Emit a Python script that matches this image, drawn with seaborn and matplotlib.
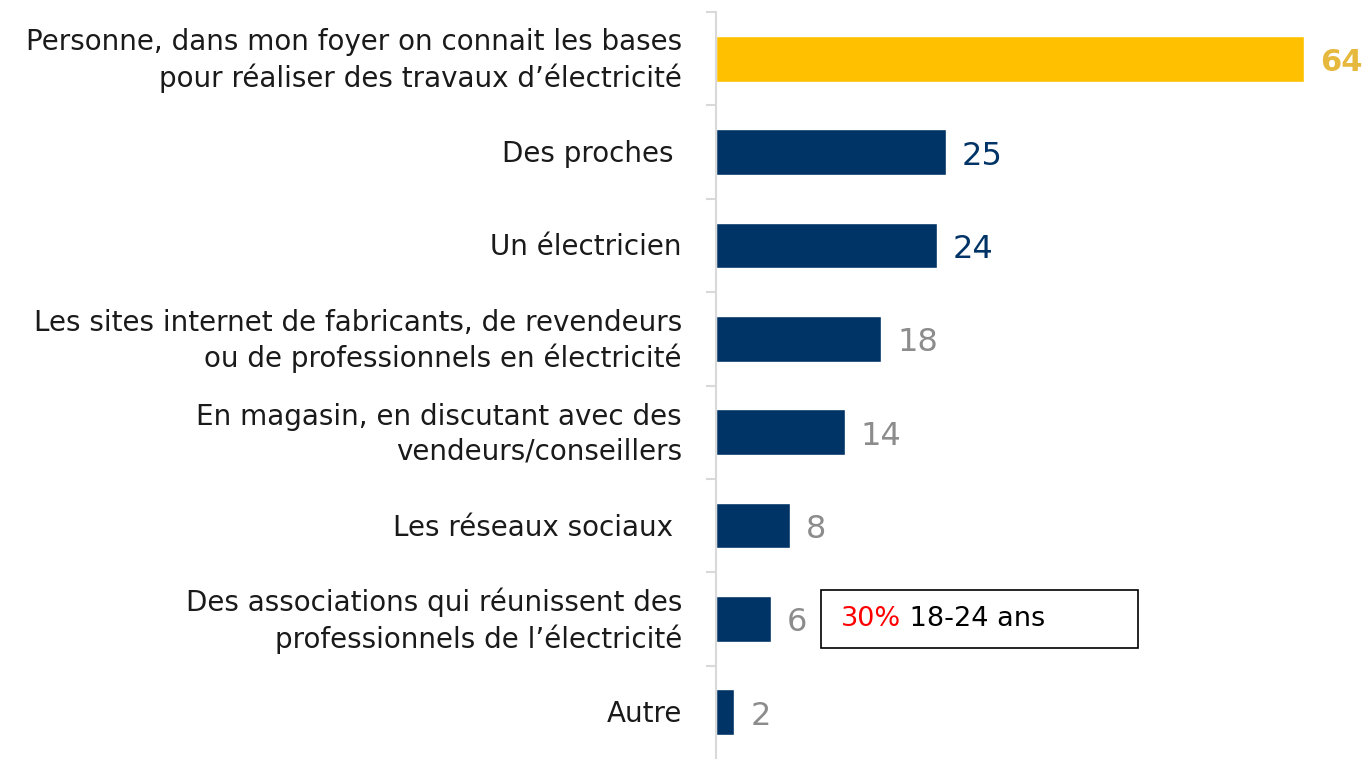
import matplotlib
matplotlib.use("Agg")
import matplotlib.pyplot as plt
import seaborn as sns
import pandas as pd
from matplotlib.patches import Rectangle

categories = [
    "Personne, dans mon foyer on connait les bases\npour réaliser des travaux d’électricité",
    "Des proches ",
    "Un électricien",
    "Les sites internet de fabricants, de revendeurs\nou de professionnels en électricité",
    "En magasin, en discutant avec des\nvendeurs/conseillers",
    "Les réseaux sociaux ",
    "Des associations qui réunissent des\nprofessionnels de l’électricité",
    "Autre",
]
values = [64, 25, 24, 18, 14, 8, 6, 2]
bar_colors = ["#FFC000", "#003366", "#003366", "#003366", "#003366", "#003366", "#003366", "#003366"]
label_colors = ["#E6B93E", "#003366", "#003366", "#8C8C8C", "#8C8C8C", "#8C8C8C", "#8C8C8C", "#8C8C8C"]
note_pct = "30%"
note_txt = "18-24 ans"

sns.set_style("white")
plt.rcParams["font.family"] = ["DejaVu Sans"]

W, H = 1365, 759
fig = plt.figure(figsize=(W / 100, H / 100), dpi=100)
ax = fig.add_axes([716 / W, 0 / H, 649 / W, 747 / H])

df = pd.DataFrame({"cat": categories, "val": values})
sns.barplot(data=df, x="val", y="cat", hue="cat", palette=bar_colors,
            orient="h", width=0.49, legend=False, ax=ax, saturation=1)

ax.set_xlim(0, 649 / 9.19)
ax.set_ylim(7.5, -0.5)
ax.set_xlabel("")
ax.set_ylabel("")
ax.set_xticks([])

for s in ["top", "right", "bottom"]:
    ax.spines[s].set_visible(False)
ax.spines["left"].set_color("#D9D9D9")
ax.spines["left"].set_linewidth(1.5)

# category labels and separator ticks
ax.set_yticks([])
ax.set_yticks([i - 0.5 for i in range(len(categories))], minor=True)
ax.tick_params(axis="y", which="minor", length=7, color="#D9D9D9", width=1.5, left=True)
for i, c in enumerate(categories):
    ax.annotate(c, xy=(0, i), xycoords=("axes fraction", "data"),
                xytext=(-34, -2), textcoords="offset pixels",
                ha="right", va="center", fontsize=20, color="#1A1A1A",
                linespacing=1.3)

# value labels
for i, (v, lc) in enumerate(zip(values, label_colors)):
    ax.annotate(str(v), xy=(v, i), xytext=(16, -4), textcoords="offset pixels",
                ha="left", va="center", fontsize=23 if i else 22,
                color=lc, fontweight="bold" if i == 0 else "normal")

# note box
idx = 6
ax.add_patch(Rectangle((11.4, idx - 0.31), 34.5, 0.62, fill=False,
                       edgecolor="black", linewidth=1.2, clip_on=False))
t1 = ax.text(13.6, idx, note_pct, color="#FF0000", fontsize=19.5, va="center", ha="left")
fig.canvas.draw()
bb = t1.get_window_extent()
ax.annotate(" " + note_txt, xy=(bb.x1, (bb.y0 + bb.y1) / 2), xycoords="figure pixels",
            ha="left", va="center", fontsize=19.5, color="black")

fig.savefig("out.png", dpi=100)
